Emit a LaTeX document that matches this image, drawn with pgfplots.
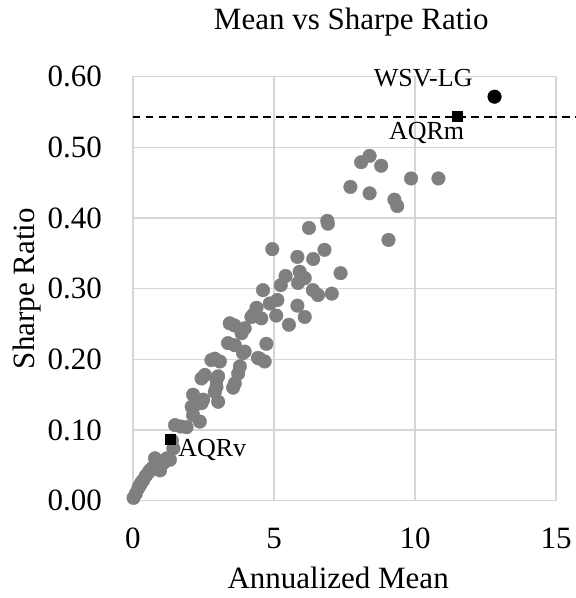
\documentclass[border=0pt]{standalone}
\usepackage{fontspec}
\setmainfont{Liberation Serif}
\usepackage{pgfplots}
\pgfplotsset{compat=1.18}
\definecolor{ptgray}{RGB}{127,127,127}
\definecolor{gridgray}{RGB}{214,214,214}
\pgfplotstableread{
x y
0.02 0.004
0.10 0.010
0.19 0.018
0.25 0.022
0.30 0.026
0.36 0.029
0.45 0.035
0.55 0.040
0.60 0.043
0.70 0.047
0.78 0.060
0.85 0.052
0.96 0.043
1.07 0.053
1.20 0.060
1.31 0.058
1.43 0.074
1.38 0.085
1.49 0.107
1.70 0.105
1.90 0.104
2.13 0.121
2.37 0.112
2.19 0.135
2.08 0.133
2.13 0.150
2.43 0.138
2.49 0.143
3.02 0.140
2.90 0.154
2.96 0.161
2.96 0.171
3.02 0.176
2.43 0.173
2.55 0.178
3.61 0.166
3.55 0.160
3.73 0.180
3.79 0.190
2.78 0.199
2.90 0.201
3.08 0.197
3.90 0.209
3.96 0.211
4.43 0.202
4.49 0.201
4.67 0.197
3.37 0.223
3.61 0.220
4.73 0.222
3.85 0.237
3.96 0.244
3.43 0.251
3.60 0.248
4.20 0.260
4.26 0.263
4.55 0.258
4.38 0.273
4.85 0.279
5.12 0.284
5.08 0.262
5.53 0.249
6.09 0.260
5.83 0.276
4.61 0.298
5.24 0.305
5.41 0.318
5.85 0.308
5.91 0.324
6.09 0.315
6.38 0.298
6.56 0.291
7.05 0.293
7.36 0.322
5.83 0.345
6.39 0.342
6.79 0.355
4.94 0.356
6.24 0.386
6.89 0.396
6.91 0.392
9.06 0.369
7.71 0.444
8.09 0.479
8.39 0.488
8.80 0.474
8.39 0.435
9.27 0.426
9.37 0.417
9.86 0.456
10.83 0.456
}\funds
\begin{document}
\begin{tikzpicture}
\useasboundingbox (-133bp,-97.3bp) rectangle (443bp,500.7bp);
\begin{axis}[
  at={(0,0)}, anchor=south west,
  scale only axis, width=423bp, height=424bp,
  xmin=0, xmax=15, ymin=0, ymax=0.6,
  xtick={0,5,10,15}, ytick={0,0.1,...,0.61},
  grid=major,
  major grid style={draw=gridgray, line width=1.2bp},
  axis line style={draw=gridgray, line width=1.2bp},
  major tick length=0pt,
  clip=false,
  /pgf/number format/assume math mode=true,
  yticklabel style={/pgf/number format/fixed, /pgf/number format/fixed zerofill, /pgf/number format/precision=2},
  tick label style={font=\fontsize{31bp}{36bp}\selectfont, inner sep=0pt},
  xticklabel style={anchor=north, yshift=-27bp},
  yticklabel style={anchor=east, xshift=-31bp},
  title={Mean vs Sharpe Ratio},
  title style={font=\fontsize{31bp}{36bp}\selectfont, inner sep=0pt, anchor=base, at={(axis description cs:0.516,1.098)}},
  xlabel={Annualized Mean},
  xlabel style={font=\fontsize{31bp}{36bp}\selectfont, inner sep=0pt, anchor=base, at={(axis description cs:0.485,-0.206)}},
  ylabel={Sharpe Ratio},
  ylabel style={font=\fontsize{31bp}{36bp}\selectfont, inner sep=0pt, anchor=center, at={(axis description cs:-0.2506,0.5)}},
]
\addplot[only marks, mark=*, mark size=6.8bp, mark options={draw=ptgray, fill=ptgray}] table[x=x,y=y] {\funds};
\addplot[black, line width=2bp, dash pattern=on 7.5bp off 5.5bp] coordinates {(0,0.5434) (15.7,0.5434)};
\addplot[only marks, mark=*, mark size=6.8bp, mark options={draw=black, fill=black}] coordinates {(12.82,0.5717)};
\addplot[only marks, mark=square*, mark size=5bp, mark options={draw=black, fill=black}] coordinates {(11.51,0.5444) (1.334,0.0869)};
\node[anchor=base, inner sep=0pt, font=\fontsize{26bp}{30bp}\selectfont] at (axis cs:10.29,0.5858) {WSV-LG};
\node[anchor=base, inner sep=0pt, font=\fontsize{26bp}{30bp}\selectfont] at (axis cs:10.41,0.5114) {AQRm};
\node[anchor=base west, inner sep=0pt, font=\fontsize{26bp}{30bp}\selectfont] at (axis cs:1.60,0.0623) {AQRv};
\end{axis}
\end{tikzpicture}
\end{document}
